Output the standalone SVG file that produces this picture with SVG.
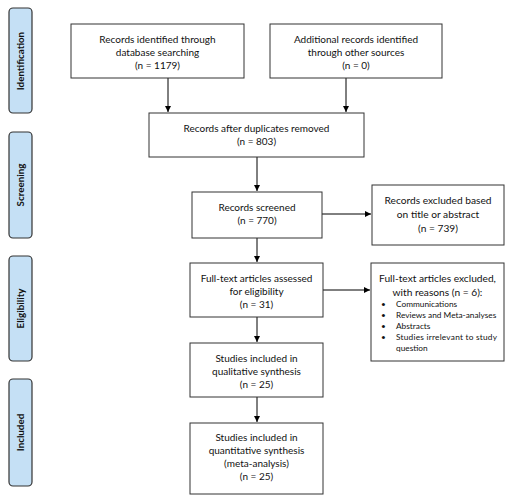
<svg xmlns="http://www.w3.org/2000/svg" width="508" height="500" viewBox="0 0 508 500">
<defs>
<marker id="ah" markerWidth="8" markerHeight="8" refX="6" refY="3" orient="auto" markerUnits="userSpaceOnUse">
<path d="M0,0 L6,3 L0,6 Z" fill="#000"/>
</marker>
<style>
.box{fill:#fff;stroke:#333;stroke-width:1}
.side{fill:#c5e0f5;stroke:#333;stroke-width:1.2}
.t{font-family:Lato,"Liberation Sans",sans-serif;font-size:10px;fill:#111;text-anchor:middle}
.tb{font-family:Lato,"Liberation Sans",sans-serif;font-size:10.2px;fill:#111;text-anchor:middle}
.s{font-family:Lato,"Liberation Sans",sans-serif;font-size:9.8px;font-weight:bold;fill:#111;text-anchor:middle}
.b{font-family:Lato,"Liberation Sans",sans-serif;font-size:8.3px;fill:#111}
.c{stroke:#000;stroke-width:1;fill:none;marker-end:url(#ah)}
</style>
</defs>
<rect width="508" height="500" fill="#fff"/>
<g id="side-identification"><rect class="side" x="9" y="8" width="23" height="105" rx="4"/><text class="s" transform="translate(24,61) rotate(-90)">Identification</text></g>
<g id="side-screening"><rect class="side" x="9" y="132" width="23" height="106" rx="4"/><text class="s" transform="translate(24,185) rotate(-90)">Screening</text></g>
<g id="side-eligibility"><rect class="side" x="9" y="256" width="23" height="105" rx="4"/><text class="s" transform="translate(24,308.5) rotate(-90)">Eligibility</text></g>
<g id="side-included"><rect class="side" x="9" y="379" width="23" height="107" rx="4"/><text class="s" transform="translate(24,432.5) rotate(-90)">Included</text></g>

<g id="connectors">
<line class="c" x1="168" y1="78" x2="168" y2="112"/>
<line class="c" x1="346" y1="78" x2="346" y2="112"/>
<line class="c" x1="257" y1="157" x2="257" y2="191"/>
<line class="c" x1="257" y1="238" x2="257" y2="262"/>
<line class="c" x1="257" y1="317" x2="257" y2="342"/>
<line class="c" x1="257" y1="397" x2="257" y2="422"/>
<line class="c" x1="322" y1="214" x2="371" y2="214"/>
<line class="c" x1="323" y1="290" x2="370" y2="290"/>
</g>

<g id="n1"><rect class="box" x="71" y="24" width="173" height="54"/>
<text class="t" x="157.5" y="43">Records identified through</text>
<text class="t" x="157.5" y="56">database searching</text>
<text class="t" x="157.5" y="69">(n = 1179)</text></g>

<g id="n2"><rect class="box" x="270" y="24" width="172" height="54"/>
<text class="t" x="356" y="43">Additional records identified</text>
<text class="t" x="356" y="56">through other sources</text>
<text class="t" x="356" y="69">(n = 0)</text></g>

<g id="n3"><rect class="box" x="149" y="113" width="215" height="44"/>
<text class="t" x="256.5" y="132">Records after duplicates removed</text>
<text class="t" x="256.5" y="145">(n = 803)</text></g>

<g id="n4"><rect class="box" x="192" y="192" width="130" height="46"/>
<text class="t" x="257" y="211">Records screened</text>
<text class="t" x="257" y="224">(n = 770)</text></g>

<g id="n5"><rect class="box" x="372" y="185" width="132" height="60"/>
<text class="tb" x="438" y="204">Records excluded based</text>
<text class="tb" x="438" y="218">on title or abstract</text>
<text class="tb" x="438" y="232">(n = 739)</text></g>

<g id="n6"><rect class="box" x="190" y="263" width="133" height="54"/>
<text class="t" x="256.5" y="282">Full-text articles assessed</text>
<text class="t" x="256.5" y="295">for eligibility</text>
<text class="t" x="256.5" y="308">(n = 31)</text></g>

<g id="n7"><rect class="box" x="371" y="263" width="133" height="98"/>
<text class="tb" x="437.5" y="282">Full-text articles excluded,</text>
<text class="tb" x="437.5" y="296">with reasons (n = 6):</text>
<text class="b" x="381" y="307">•</text><text class="b" x="396" y="307">Communications</text>
<text class="b" x="381" y="318">•</text><text class="b" x="396" y="318">Reviews and Meta-analyses</text>
<text class="b" x="381" y="329">•</text><text class="b" x="396" y="329">Abstracts</text>
<text class="b" x="381" y="340">•</text><text class="b" x="396" y="340" textLength="101" lengthAdjust="spacing">Studies irrelevant to study</text>
<text class="b" x="396" y="351">question</text></g>

<g id="n8"><rect class="box" x="190" y="343" width="133" height="54"/>
<text class="t" x="256.5" y="362">Studies included in</text>
<text class="t" x="256.5" y="375">qualitative synthesis</text>
<text class="t" x="256.5" y="388">(n = 25)</text></g>

<g id="n9"><rect class="box" x="190" y="423" width="133" height="71"/>
<text class="t" x="256.5" y="441">Studies included in</text>
<text class="t" x="256.5" y="454">quantitative synthesis</text>
<text class="t" x="256.5" y="467">(meta-analysis)</text>
<text class="t" x="256.5" y="480">(n = 25)</text></g>
</svg>
